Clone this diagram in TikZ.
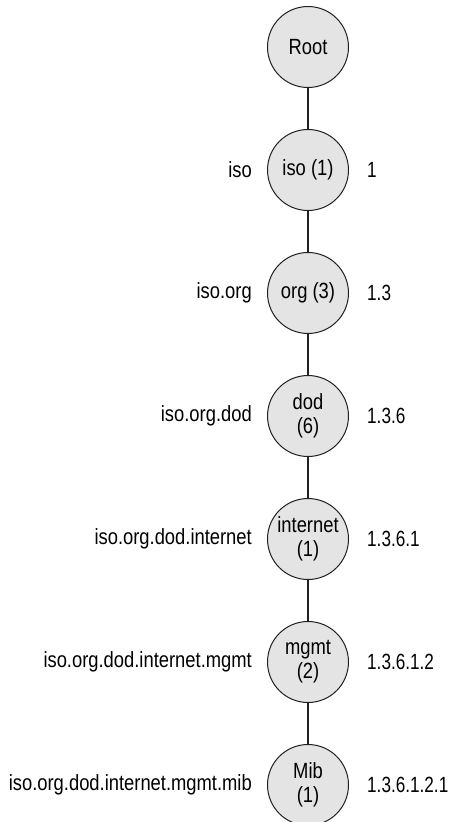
\documentclass[tikz,border=0pt]{standalone}
\usepackage{fontspec}
\setmainfont{Liberation Sans}[FakeStretch=0.835]
\newfontfamily\numfont{Liberation Sans}[FakeStretch=0.78]
\usetikzlibrary{positioning}
\definecolor{colNode}{HTML}{E4E4E4}
\definecolor{colLine}{HTML}{231F20}
\tikzset{
  %% tree node (circle)
  oid/.style={
    circle, draw=colLine, line width=1pt,
    fill=colNode,
    minimum size=81pt, inner sep=1pt,
    align=center,
    font=\fontsize{22}{24}\selectfont
  },
  %% dotted name on the left
  oidname/.style={font=\fontsize{22}{24}\selectfont, inner sep=0pt},
  %% numeric OID on the right
  oidnum/.style={font=\numfont\fontsize{22}{24}\selectfont, inner sep=0pt},
  %% tree edge
  link/.style={draw=colLine, line width=1.7pt}
}

\begin{document}
\begin{tikzpicture}[
  x=1pt, y=1pt,
  node distance = 41pt and 15pt,
]
\useasboundingbox (0,0) rectangle (449,-822);

% ════════════════════════════════════════════════════════════
% TREE – one node per level
% ════════════════════════════════════════════════════════════
\node[oid] (root) at (308,-47) {Root};
\node[oid, below=of root]     (iso)      {iso (1)};
\node[oid, below=of iso]      (org)      {org (3)};
\node[oid, below=of org]      (dod)      {dod\\(6)};
\node[oid, below=of dod]      (internet) {internet\\(1)};
\node[oid, below=of internet] (mgmt)     {mgmt\\(2)};
\node[oid, below=of mgmt]     (mib)      {Mib\\(1)};

% ════════════════════════════════════════════════════════════
% LABELS – names left, numbers right
% ════════════════════════════════════════════════════════════
\node[oidname, left=of iso]      {iso};
\node[oidname, left=of org]      {iso.org};
\node[oidname, left=of dod]      {iso.org.dod};
\node[oidname, left=of internet] {iso.org.dod.internet};
\node[oidname, left=of mgmt]     {iso.org.dod.internet.mgmt};
\node[oidname, left=of mib]      {iso.org.dod.internet.mgmt.mib};

\node[oidnum, right=18pt of iso]      {1};
\node[oidnum, right=18pt of org]      {1.3};
\node[oidnum, right=18pt of dod]      {1.3.6};
\node[oidnum, right=18pt of internet] {1.3.6.1};
\node[oidnum, right=18pt of mgmt]     {1.3.6.1.2};
\node[oidnum, right=18pt of mib]      {1.3.6.1.2.1};

% ════════════════════════════════════════════════════════════
% EDGES
% ════════════════════════════════════════════════════════════
\draw[link] (root) -- (iso);
\draw[link] (iso) -- (org);
\draw[link] (org) -- (dod);
\draw[link] (dod) -- (internet);
\draw[link] (internet) -- (mgmt);
\draw[link] (mgmt) -- (mib);

\end{tikzpicture}
\end{document}
